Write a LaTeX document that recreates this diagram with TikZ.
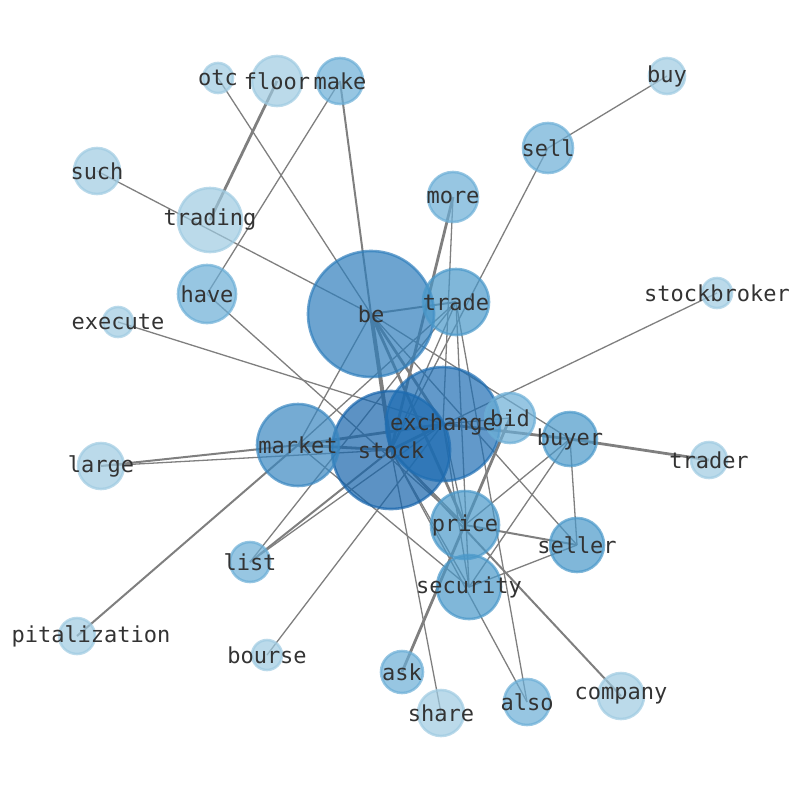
\documentclass[tikz,border=0pt]{standalone}
\usepackage{fontspec}
\setmainfont{DejaVu Sans Mono}
\definecolor{cA}{HTML}{9ECAE1}
\definecolor{cB}{HTML}{6BAED6}
\definecolor{cC}{HTML}{4A98C9}
\definecolor{cD}{HTML}{3A87C0}
\definecolor{cE}{HTML}{2F7EBC}
\definecolor{cF}{HTML}{1F6EB3}
\definecolor{cG}{HTML}{1764AB}
\definecolor{edgec}{HTML}{7F7F7F}
\definecolor{txt}{HTML}{333333}
\tikzset{
  vtx/.style={circle, inner sep=0pt, fill opacity=0.7, draw opacity=0.7, line width=2.6pt},
  lbl/.style={inner sep=0pt, text=txt, font=\fontsize{22}{24}\selectfont},
  ed/.style={draw=edgec, line width=1.3pt},
  edm/.style={draw=edgec, line width=2pt},
  edt/.style={draw=edgec, line width=2.8pt},
  edx/.style={draw=edgec, line width=4pt},
}
\newcommand{\vx}[5]{\node[vtx, fill=#4, draw=#4, minimum size=#5*2pt] (#1) at (#2,#3) {};}
\begin{document}
\begin{tikzpicture}[x=1pt,y=-1pt]
\useasboundingbox (0,0) rectangle (794,790);
% coordinates for vertices
\coordinate (p-otc) at (218,78);
% edges drawn between coordinates of vertices; first define vertices invisibly
\begin{scope}[every node/.style={inner sep=0pt, minimum size=0pt}]
\node (otc) at (218,78) {};
\node (floor) at (277,81) {};
\node (make) at (340,81) {};
\node (buy) at (667,76) {};
\node (sell) at (548,148) {};
\node (such) at (97,171) {};
\node (trading) at (210,220) {};
\node (more) at (453,197) {};
\node (have) at (207,294) {};
\node (be) at (371,314) {};
\node (trade) at (456,302) {};
\node (stockbroker) at (717,293) {};
\node (execute) at (118,322) {};
\node (exchange) at (443,424) {};
\node (bid) at (510,418) {};
\node (buyer) at (570,439) {};
\node (trader) at (709,460) {};
\node (market) at (298,445) {};
\node (stock) at (391,450) {};
\node (large) at (101,466) {};
\node (price) at (465,525) {};
\node (seller) at (577,545) {};
\node (list) at (250,562) {};
\node (security) at (469,587) {};
\node (capital) at (77,636) {};
\node (bourse) at (267,655) {};
\node (ask) at (402,672) {};
\node (share) at (441,713) {};
\node (also) at (527,702) {};
\node (company) at (621,696) {};
\end{scope}
% edges
\draw[ed] (otc.center) -- (be.center);
\draw[edt] (floor.center) -- (trading.center);
\draw[ed] (make.center) -- (have.center);
\draw[edm] (make.center) -- (be.center);
\draw[ed] (buy.center) -- (sell.center);
\draw[ed] (sell.center) -- (stock.center);
\draw[ed] (such.center) -- (be.center);
\draw[edt] (more.center) -- (stock.center);
\draw[ed] (more.center) -- (exchange.center);
\draw[edm] (trade.center) -- (be.center);
\draw[ed] (trade.center) -- (market.center);
\draw[ed] (trade.center) -- (list.center);
\draw[ed] (trade.center) -- (also.center);
\draw[ed] (trade.center) -- (security.center);
\draw[ed] (trade.center) -- (stock.center);
\draw[ed] (execute.center) -- (exchange.center);
\draw[ed] (have.center) -- (price.center);
\draw[edm] (large.center) -- (market.center);
\draw[ed] (large.center) -- (stock.center);
\draw[edm] (capital.center) -- (market.center);
\draw[ed] (bourse.center) -- (exchange.center);
\draw[edt] (ask.center) -- (bid.center);
\draw[ed] (share.center) -- (stock.center);
\draw[ed] (also.center) -- (stock.center);
\draw[edm] (company.center) -- (stock.center);
\draw[edm] (seller.center) -- (price.center);
\draw[ed] (seller.center) -- (buyer.center);
\draw[ed] (seller.center) -- (security.center);
\draw[ed] (seller.center) -- (be.center);
\draw[edt] (buyer.center) -- (trader.center);
\draw[edt] (buyer.center) -- (exchange.center);
\draw[ed] (buyer.center) -- (price.center);
\draw[ed] (buyer.center) -- (security.center);
\draw[ed] (buyer.center) -- (be.center);
\draw[ed] (stockbroker.center) -- (stock.center);
\draw[ed] (bid.center) -- (exchange.center);
\draw[edt] (market.center) -- (stock.center);
\draw[edt] (market.center) -- (exchange.center);
\draw[ed] (market.center) -- (be.center);
\draw[ed] (market.center) -- (security.center);
\draw[edx] (be.center) -- (stock.center);
\draw[edt] (be.center) -- (exchange.center);
\draw[edt] (be.center) -- (price.center);
\draw[edt] (stock.center) -- (exchange.center);
\draw[edm] (list.center) -- (stock.center);
\draw[ed] (list.center) -- (exchange.center);
\draw[ed] (stock.center) -- (price.center);
\draw[ed] (exchange.center) -- (price.center);
\draw[ed] (stock.center) -- (security.center);
\draw[ed] (exchange.center) -- (security.center);
% vertex discs
\vx{d-otc}{218}{78}{cA}{15}
\vx{d-floor}{277}{81}{cA}{25}
\vx{d-make}{340}{81}{cB}{23}
\vx{d-buy}{667}{76}{cA}{18}
\vx{d-sell}{548}{148}{cB}{25}
\vx{d-such}{97}{171}{cA}{23}
\vx{d-trading}{210}{220}{cA}{32}
\vx{d-more}{453}{197}{cB}{25}
\vx{d-have}{207}{294}{cB}{29}
\vx{d-be}{371}{314}{cE}{63}
\vx{d-trade}{456}{302}{cC}{33}
\vx{d-stockbroker}{717}{293}{cA}{15}
\vx{d-execute}{118}{322}{cA}{15}
\vx{d-stock}{391}{450}{cG}{59}
\vx{d-exchange}{443}{424}{cF}{57}
\vx{d-bid}{510}{418}{cB}{25}
\vx{d-buyer}{570}{439}{cC}{27}
\vx{d-trader}{709}{460}{cA}{18}
\vx{d-market}{298}{445}{cD}{41}
\vx{d-large}{101}{466}{cA}{23}
\vx{d-price}{465}{525}{cC}{34}
\vx{d-seller}{577}{545}{cC}{27}
\vx{d-list}{250}{562}{cB}{20}
\vx{d-security}{469}{587}{cC}{32}
\vx{d-capital}{77}{636}{cA}{18}
\vx{d-bourse}{267}{655}{cA}{15}
\vx{d-ask}{402}{672}{cB}{21}
\vx{d-share}{441}{713}{cA}{23}
\vx{d-also}{527}{702}{cB}{23}
\vx{d-company}{621}{696}{cA}{23}
% labels
\node[lbl] (t-otc) at (otc) {otc};
\node[lbl] (t-floor) at (floor) {floor};
\node[lbl] (t-make) at (make) {make};
\node[lbl] (t-buy) at (buy) {buy};
\node[lbl] (t-sell) at (sell) {sell};
\node[lbl] (t-such) at (such) {such};
\node[lbl] (t-trading) at (trading) {trading};
\node[lbl] (t-more) at (more) {more};
\node[lbl] (t-have) at (have) {have};
\node[lbl] (t-be) at (be) {be};
\node[lbl] (t-trade) at (trade) {trade};
\node[lbl] (t-stockbroker) at (stockbroker) {stockbroker};
\node[lbl] (t-execute) at (execute) {execute};
\node[lbl] (t-exchange) at (exchange) {exchange};
\node[lbl] (t-bid) at (bid) {bid};
\node[lbl] (t-buyer) at (buyer) {buyer};
\node[lbl] (t-trader) at (trader) {trader};
\node[lbl] (t-market) at (market) {market};
\node[lbl] (t-stock) at (stock) {stock};
\node[lbl] (t-large) at (large) {large};
\node[lbl] (t-price) at (price) {price};
\node[lbl] (t-seller) at (seller) {seller};
\node[lbl] (t-list) at (list) {list};
\node[lbl] (t-security) at (security) {security};
\node[lbl] (t-capital) at (91,636) {pitalization};
\node[lbl] (t-bourse) at (bourse) {bourse};
\node[lbl] (t-ask) at (ask) {ask};
\node[lbl] (t-share) at (share) {share};
\node[lbl] (t-also) at (also) {also};
\node[lbl] (t-company) at (company) {company};
\end{tikzpicture}
\end{document}
